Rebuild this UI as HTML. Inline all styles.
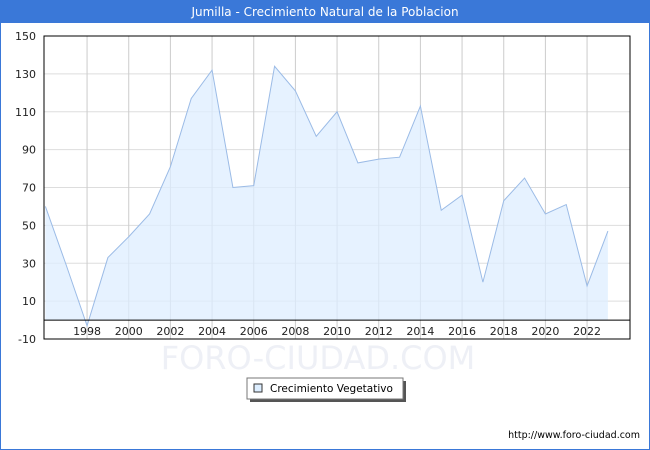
<!DOCTYPE html>
<html><head><meta charset="utf-8"><style>
body{margin:0;background:#fff;font-family:"DejaVu Sans","Liberation Sans",sans-serif}
#wrap{position:relative;width:648px;height:448px;border:1px solid #3a78d8;overflow:hidden}
#title{height:22px;background:#3a78d8;color:#fff;font-size:12px;text-align:center;line-height:22px}
svg text{font-family:"DejaVu Sans","Liberation Sans",sans-serif}
</style></head><body>
<div id="wrap">
<div id="title">Jumilla - Crecimiento Natural de la Poblacion</div>
<svg id="svg" width="650" height="430" style="position:absolute;left:-1px;top:21px"></svg>
</div>
<script>
const years=[1996,1997,1998,1999,2000,2001,2002,2003,2004,2005,2006,2007,2008,2009,2010,2011,2012,2013,2014,2015,2016,2017,2018,2019,2020,2021,2022,2023];
const values=[60,29,-3,33,44,56,81,117,132,70,71,134,121,97,110,83,85,86,113,58,66,20,63,75,56,61,18,47];
const yTicks=[-10,10,30,50,70,90,110,130,150];
const xTicks=[1998,2000,2002,2004,2006,2008,2010,2012,2014,2016,2018,2020,2022];
const OY=-21;
const L=44,R=630,T=35+OY,B=338+OY;
const X=v=>45.4+(v-1996)*500/24;
const Y=v=>B-(v+10)*(B-T)/160;
const svg=document.getElementById('svg');
const NS='http://www.w3.org/2000/svg';
function mk(t,a,txt){const e=document.createElementNS(NS,t);for(const k in a)e.setAttribute(k,a[k]);if(txt!=null)e.textContent=txt;svg.appendChild(e);return e;}
let e=mk('text',{x:318,y:368+OY,'font-size':32,fill:'#eef0f6','text-anchor':'middle'},'FORO-CIUDAD.COM');


yTicks.forEach(v=>{
 e=mk('line',{x1:L,x2:R,y1:Y(v),y2:Y(v),stroke:'#dddddd'});
 
 
 e=mk('text',{x:36,y:Y(v)+4,'font-size':11,'text-anchor':'end',fill:'#222'},v);
 
 
});
xTicks.forEach(v=>{
 e=mk('line',{x1:X(v),x2:X(v),y1:T,y2:B,stroke:'#cccccc'});
 
 
 e=mk('text',{x:X(v),y:B-4,'font-size':11,'text-anchor':'middle',fill:'#222'},v);
 
 
});
let pts=years.map((y,i)=>X(y)+','+Y(values[i])).join(' ');
e=mk('polygon',{points:X(years[0])+','+Y(0)+' '+pts+' '+X(years[years.length-1])+','+Y(0),fill:'#ddeeff','fill-opacity':0.75});


e=mk('polyline',{points:pts,fill:'none',stroke:'#9bbbe6','stroke-width':1});


e=mk('line',{x1:L,x2:R,y1:Y(0),y2:Y(0),stroke:'#000'});


e=mk('rect',{x:L,y:T,width:R-L,height:B-T,fill:'none',stroke:'#000'});


const g=document.createElementNS(NS,'g');svg.appendChild(g);


g.innerHTML='<rect x="250" y="359" width="156" height="21" fill="#555"/><rect x="247" y="356" width="156" height="21" fill="#fff" stroke="#777"/><rect x="254" y="362" width="8" height="8" fill="#ddeeff" stroke="#333"/><text x="270" y="370" font-size="10.5" fill="#000">Crecimiento Vegetativo</text>';
e=mk('text',{x:640,y:416,'font-size':9.5,'text-anchor':'end',fill:'#000'},'http://www.foro-ciudad.com');


</script>
</body></html>
